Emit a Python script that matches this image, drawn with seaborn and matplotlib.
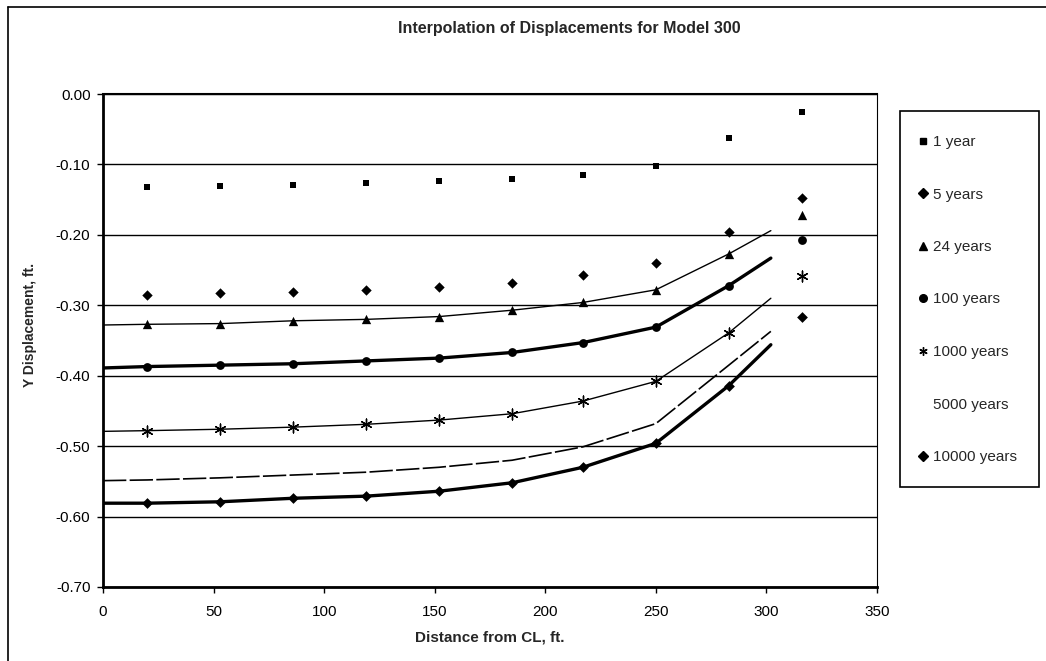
import matplotlib
matplotlib.use("Agg")
import matplotlib.pyplot as plt
from matplotlib.lines import Line2D
from matplotlib.patches import Rectangle
import seaborn as sns
import pandas as pd

# ---- data ----
x_pts = [20, 53, 86, 119, 152, 185, 217, 250, 283, 316]
y_1yr = [-0.132, -0.131, -0.129, -0.127, -0.124, -0.121, -0.115, -0.102, -0.063, -0.025]
y_5yr = [-0.286, -0.282, -0.281, -0.278, -0.274, -0.268, -0.257, -0.240, -0.196, -0.147]
y_24yr = [-0.327, -0.326, -0.322, -0.320, -0.316, -0.307, -0.296, -0.278, -0.227, -0.172]
y_100yr = [-0.387, -0.385, -0.383, -0.379, -0.375, -0.367, -0.353, -0.331, -0.272, -0.207]
y_1000yr = [-0.478, -0.476, -0.473, -0.469, -0.463, -0.454, -0.436, -0.408, -0.339, -0.258]
y_10000yr = [-0.581, -0.579, -0.574, -0.571, -0.564, -0.552, -0.530, -0.496, -0.414, -0.316]

# interpolation curves
x_interp = [0, 20, 53, 86, 119, 152, 185, 217, 250, 283, 302]
i_24yr = [-0.328, -0.327, -0.326, -0.322, -0.320, -0.316, -0.307, -0.296, -0.278, -0.227, -0.194]
i_100yr = [-0.389, -0.387, -0.385, -0.383, -0.379, -0.375, -0.367, -0.353, -0.331, -0.272, -0.233]
i_1000yr = [-0.479, -0.478, -0.476, -0.473, -0.469, -0.463, -0.454, -0.436, -0.408, -0.339, -0.290]
i_5000yr = [-0.549, -0.548, -0.545, -0.541, -0.537, -0.530, -0.520, -0.501, -0.468, -0.385, -0.337]
i_10000yr = [-0.581, -0.581, -0.579, -0.574, -0.571, -0.564, -0.552, -0.530, -0.496, -0.414, -0.356]

labels = ["1 year", "5 years", "24 years", "100 years", "1000 years", "5000 years", "10000 years"]
title = "Interpolation of Displacements for Model 300"
xlabel = "Distance from CL, ft."
ylabel = "Y Displacement, ft."
yticks = [0.0, -0.1, -0.2, -0.3, -0.4, -0.5, -0.6, -0.7]
xticks = [0, 50, 100, 150, 200, 250, 300, 350]

# ---- style ----
sns.set_theme(style="white")
plt.rcParams["font.family"] = ["Liberation Sans", "DejaVu Sans"]

W, H = 1046, 661
fig = plt.figure(figsize=(W / 100, H / 100), dpi=100)
ax = fig.add_axes([103 / W, 1 - 587 / H, (877 - 103) / W, (587 - 94) / H])

# interpolation lines
line_specs = [
    (i_24yr, 1.0, None),
    (i_100yr, 2.4, None),
    (i_1000yr, 1.0, None),
    (i_5000yr, 1.2, (14, 2)),
    (i_10000yr, 2.4, None),
]
for yv, lw, dash in line_specs:
    df = pd.DataFrame({"x": x_interp, "y": yv})
    sns.lineplot(data=df, x="x", y="y", ax=ax, color="black", lw=lw,
                 sort=False, estimator=None, zorder=3)
    if dash is not None:
        ax.lines[-1].set_dashes(dash)

# marker series
mk_specs = [
    (y_1yr, "s", 24),
    (y_5yr, "D", 28),
    (y_24yr, "^", 45),
    (y_100yr, "o", 40),
    (y_1000yr, (6, 2, 0), 60),
    (y_10000yr, "D", 30),
]
for yv, mk, s in mk_specs:
    df = pd.DataFrame({"x": x_pts, "y": yv})
    sns.scatterplot(data=df, x="x", y="y", ax=ax, marker=mk, s=s, color="black",
                    edgecolor="black", linewidth=1.0 if isinstance(mk, tuple) else 0,
                    zorder=4, legend=False)

ax.set_xlim(0, 350)
ax.set_ylim(-0.7, 0.0)
ax.set_xticks(xticks)
ax.set_yticks(yticks)
ax.set_yticklabels([f"{v:.2f}" for v in yticks], fontsize=11)
ax.set_xticklabels([str(v) for v in xticks], fontsize=11)
ax.yaxis.grid(True, color="black", lw=1.0)
ax.xaxis.grid(False)
ax.tick_params(axis="both", direction="out", length=4, width=1, color="black",
               bottom=True, left=True, labelcolor="black")
ax.tick_params(axis="y", pad=5)
ax.tick_params(axis="x", pad=9)
for side in ["left", "bottom"]:
    ax.spines[side].set_color("black")
    ax.spines[side].set_linewidth(2)
ax.spines["right"].set_color("black")
ax.spines["right"].set_linewidth(0.8)
ax.spines["top"].set_color("black")
ax.spines["top"].set_linewidth(1.5)

ax.set_xlabel(xlabel, fontsize=11, fontweight="bold")
ax.xaxis.set_label_coords(0.5, (587 - 630) / 493, transform=ax.transAxes)
ax.set_ylabel(ylabel, fontsize=10, fontweight="bold")
ax.yaxis.set_label_coords((37 - 103) / 774, (587 - 325) / 493, transform=ax.transAxes)
fig.text(569 / W, 1 - 28 / H, title, fontsize=11.5, fontweight="bold",
         ha="center", va="center")

# legend (markers only)
handles = [
    Line2D([], [], ls="none", marker="s", ms=4.8, color="black"),
    Line2D([], [], ls="none", marker="D", ms=5, color="black"),
    Line2D([], [], ls="none", marker="^", ms=6, color="black"),
    Line2D([], [], ls="none", marker="o", ms=5.5, color="black"),
    Line2D([], [], ls="none", marker=(6, 2, 0), ms=6, color="black", mew=1),
    Line2D([], [], ls="none", marker=None, color="black"),
    Line2D([], [], ls="none", marker="D", ms=5, color="black"),
]
leg = fig.legend(handles, labels, loc="upper left",
                 bbox_to_anchor=(917 / W, 1 - 135 / H),
                 fontsize=11, frameon=False, handlelength=0.8, handletextpad=0.25,
                 labelspacing=2.52, borderpad=0, borderaxespad=0)
fig.add_artist(Rectangle((900 / W, 1 - 487 / H), (1039 - 900) / W, (487 - 111) / H,
                         transform=fig.transFigure, fill=False, edgecolor="black",
                         lw=1.2))

# outer chart border
fig.add_artist(Line2D([8 / W, 8 / W], [0, 1 - 7 / H], transform=fig.transFigure,
                      color="black", lw=1.2))
fig.add_artist(Line2D([8 / W, 1], [1 - 7 / H, 1 - 7 / H], transform=fig.transFigure,
                      color="black", lw=1.2))

fig.savefig("out.png", dpi=100)
